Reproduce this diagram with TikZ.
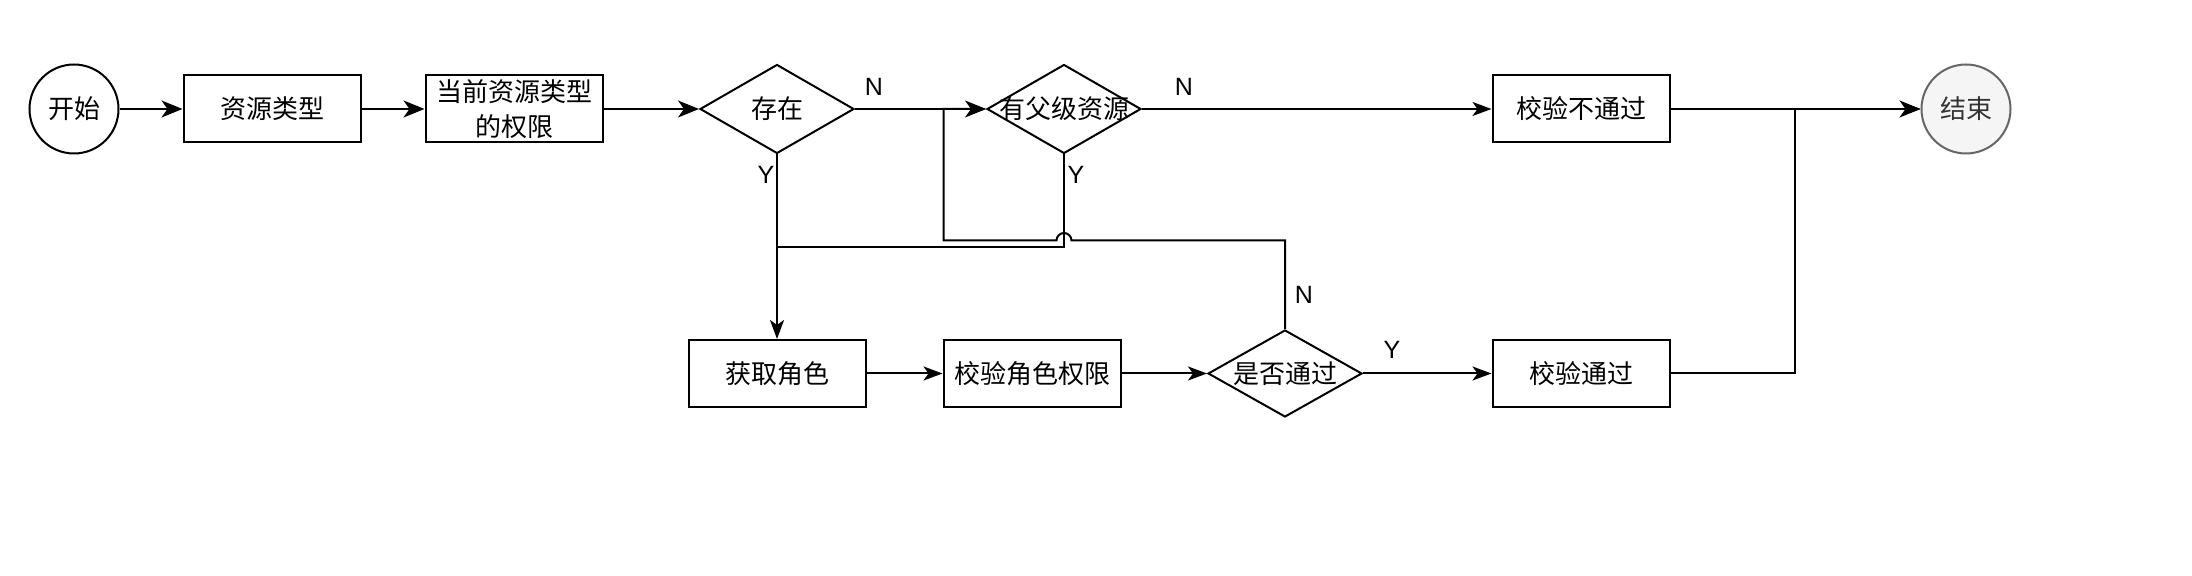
\documentclass[tikz,border=0pt]{standalone}
\usepackage{fontspec}
\setmainfont{Liberation Sans}
\newfontfamily\cjk{Noto Sans CJK SC}
\usetikzlibrary{shapes.geometric,arrows.meta}
\definecolor{endfill}{HTML}{F5F5F5}
\definecolor{endline}{HTML}{666666}
\definecolor{endtext}{HTML}{333333}
\tikzset{
  base/.style={draw=black, line width=1pt, inner sep=0pt, font=\cjk\fontsize{13}{17.5}\selectfont},
  boxnode/.style={base, rectangle, minimum width=88.5pt, minimum height=33.5pt},
  circnode/.style={base, ellipse, minimum width=44.5pt, minimum height=44.5pt},
  dianode/.style={base, diamond, minimum width=77pt, minimum height=44.5pt},
  dtext/.style={font=\cjk\fontsize{13}{17.5}\selectfont, inner sep=0pt},
  lbl/.style={font=\fontsize{12.5}{14}\selectfont, inner sep=0pt},
  conn/.style={line width=1pt, draw=black},
  arr/.style={conn, -{Stealth[length=9.5pt, width=7pt, inset=2.5pt]}},
  bigarr/.style={conn, -{Stealth[length=10.5pt, width=8.5pt, inset=3pt]}},
}
\begin{document}
\begin{tikzpicture}[x=0.5pt, y=-0.5pt]
\useasboundingbox (0,0) rectangle (2192,576);
% nodes
\node[circnode] (start) at (74,109) {开始};
\node[boxnode] (res) at (272,109) {资源类型};
\node[boxnode, align=center] (cur) at (514,109) {当前资源类型\\的权限};
\node[dianode, label={[dtext]center:存在}] (exist) at (777,109) {};
\node[dianode, label={[dtext]center:有父级资源}] (parent) at (1064,109) {};
\node[boxnode] (fail) at (1581,109) {校验不通过};
\node[circnode, draw=endline, fill=endfill, text=endtext] (end) at (1966,109) {结束};
\node[boxnode] (role) at (777,373.5) {获取角色};
\node[boxnode] (check) at (1032,373.5) {校验角色权限};
\node[dianode, minimum height=43.5pt, label={[dtext]center:是否通过}] (pass) at (1285,373.5) {};
\node[boxnode] (ok) at (1581,373.5) {校验通过};
% coordinates
\coordinate (join) at (777,247.5);
\coordinate (hopR) at (1071.5,240.5);
\coordinate (loopC) at (943.5,240.5);
\coordinate (merge) at (1795,109);
% connectors
\draw[bigarr] (start) -- (res);
\draw[bigarr] (res) -- (cur);
\draw[bigarr] (cur) -- (exist);
\draw[bigarr] (exist) -- (parent);
\draw[arr] (parent) -- (fail);
\draw[arr] (exist.south) -- (role.north);
\draw[conn] (parent.south) |- (join);
\draw[arr] (pass.north) |- (hopR) arc[start angle=0, end angle=180, radius=3.75pt] -- (loopC) |- (parent.west);
\draw[arr] (role) -- (check);
\draw[arr] (check) -- (pass);
\draw[arr] (pass) -- (ok);
\draw[arr] (fail) -- (end);
\draw[conn] (ok.east) -| (merge);
\draw[bigarr] (merge) -- (end.west);
% labels
\node[lbl] (n1) at (874,87) {N};
\node[lbl] (n2) at (1184,87) {N};
\node[lbl] (y1) at (766,175) {Y};
\node[lbl] (y2) at (1076,175) {Y};
\node[lbl] (n3) at (1304,295) {N};
\node[lbl] (y3) at (1392,350) {Y};
\end{tikzpicture}
\end{document}
